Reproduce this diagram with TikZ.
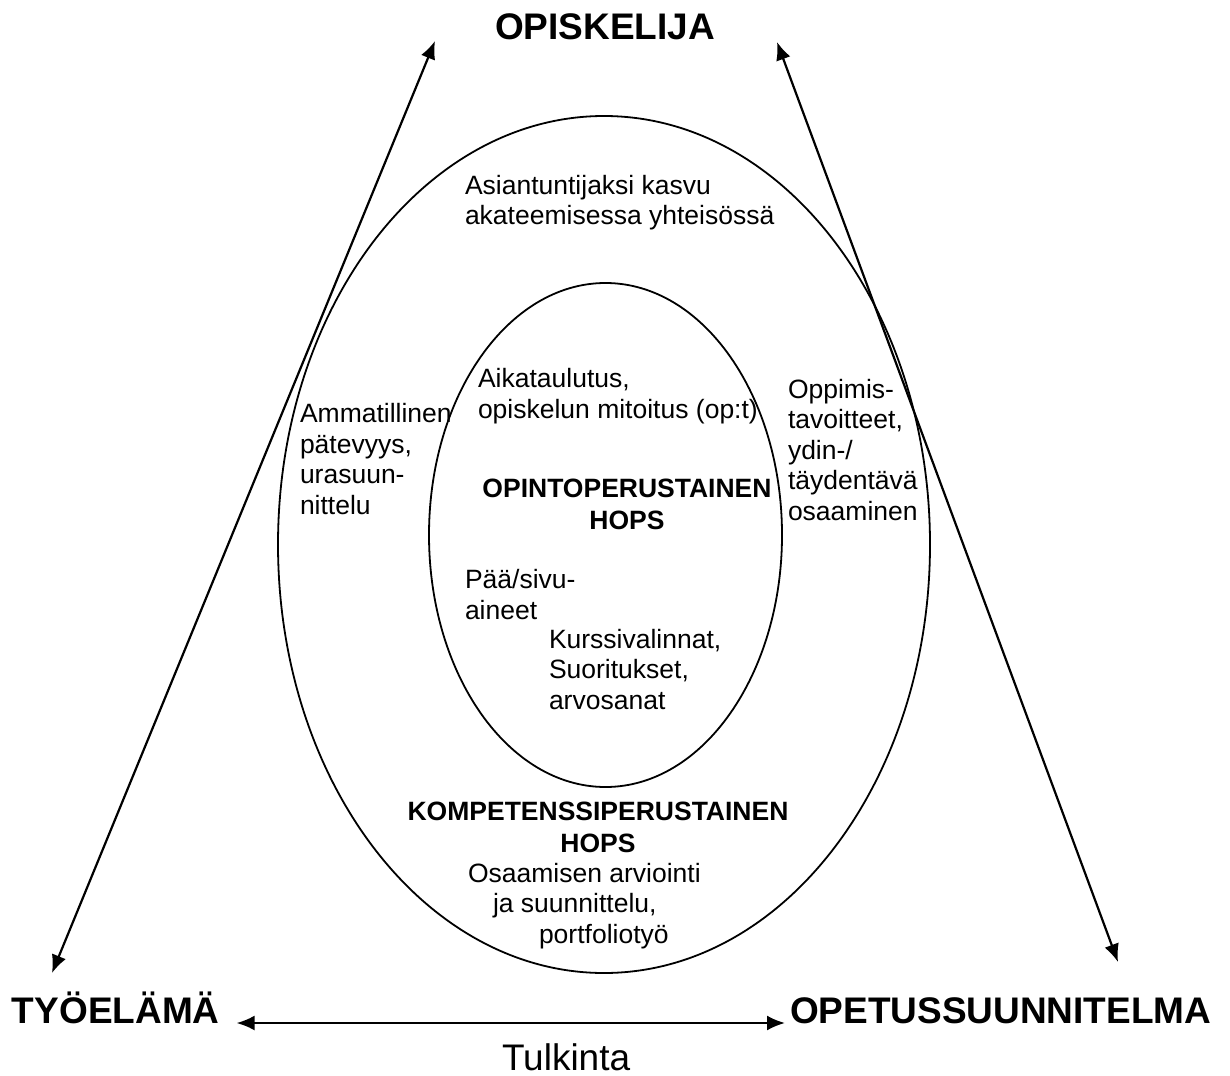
\documentclass[tikz,border=0pt]{standalone}
\usepackage{fontspec}
\setmainfont{Liberation Sans}
\usetikzlibrary{arrows.meta}

\begin{document}
\begin{tikzpicture}[x=1pt,y=-1pt,line width=1.8pt,
  every node/.style={inner sep=0pt,outer sep=0pt},
  txt/.style={font=\fontsize{26.5}{30.5}\selectfont,align=left,anchor=base west},
  hops/.style={font=\fontsize{26.5}{31.5}\selectfont\bfseries,align=center,anchor=base},
  big/.style={font=\fontsize{37}{42}\selectfont\bfseries,anchor=base west},
  link/.style={line width=2.2pt,{Latex[length=18pt,width=15pt]}-{Latex[length=18pt,width=15pt]}}]
\useasboundingbox (0,0) rectangle (1230,1075);

% rings
\draw (604,544.5) ellipse [x radius=326,y radius=428.5];
\draw (605.5,535) ellipse [x radius=176.5,y radius=252];

% corners
\node[big,anchor=base] (opisk) at (605,40) {OPISKELIJA};
\node[big] (tyo) at (12,1023) {TYÖELÄMÄ};
\node[big] (ops) at (790,1023) {OPETUSSUUNNITELMA};
\node[txt,font=\fontsize{37}{42}\selectfont] (tulk) at (502,1070) {Tulkinta};

% outer ring (anchor = last line)
\node[txt] (kasvu) at (465,225) {Asiantuntijaksi kasvu\\akateemisessa yhteisössä};
\node[txt] (ammat) at (300,514) {Ammatillinen\\pätevyys,\\urasuun-\\nittelu};
\node[txt] (oppim) at (788,520) {Oppimis-\\tavoitteet,\\ydin-/\\täydentävä\\osaaminen};
\node[hops] (komp) at (598,852) {KOMPETENSSIPERUSTAINEN\\HOPS};
\node[txt] (osaam) at (468,943) {Osaamisen arviointi\\\hspace*{25pt}ja suunnittelu,\\\hspace*{71pt}portfoliotyö};

% inner ring
\node[txt] (aika) at (478,418) {Aikataulutus,\\opiskelun mitoitus (op:t)};
\node[hops] (opint) at (627,529) {OPINTOPERUSTAINEN\\HOPS};
\node[txt] (paasivu) at (465,619) {Pää/sivu-\\aineet};
\node[txt] (kurssi) at (549,709) {Kurssivalinnat,\\Suoritukset,\\arvosanat};

% arrows
\coordinate (opiskL) at (435,41);
\coordinate (opiskR) at (777,42);
\coordinate (tyoT) at (52,973);
\coordinate (opsT) at (1118,962);
\draw[link] (opiskL) -- (tyoT);
\draw[link] (opiskR) -- (opsT);
\draw[link,shorten <=17pt,shorten >=5pt] (tyo.base east) -- (ops.base west);
\end{tikzpicture}
\end{document}
